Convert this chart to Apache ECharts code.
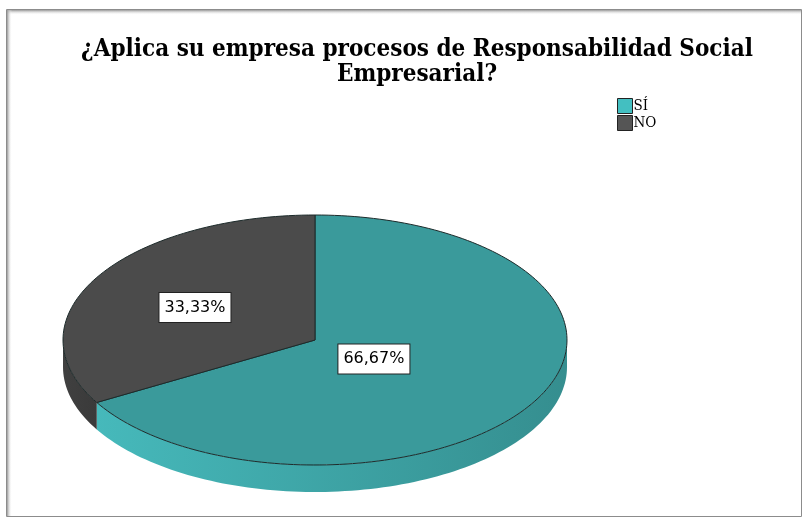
<!DOCTYPE html>
<html><head><meta charset="utf-8">
<script src="https://cdn.jsdelivr.net/npm/echarts@6/dist/echarts.min.js"></script>
<style>html,body{margin:0;padding:0;background:#fff}#c{width:805px;height:519px}</style>
</head><body><div id="c"></div>
<script>
const categories = ['SÍ', 'NO'];
const values = [66.67, 33.33];
const labelTexts = ['66,67%', '33,33%'];
const topColors = ['#3a9a9b', '#4b4b4b'];
const legendColors = ['#43bfc1', '#555555'];
const sideColors = [['#46b9bb', '#358e8f'], ['#404040', '#3a3a3a']];

const chart = echarts.init(document.getElementById('c'), null, {renderer: 'canvas'});
const total = values.reduce((a, b) => a + b, 0);
const CX = 315, CY = 340, RX = 252, RY = 125, DEPTH = 27;
const labelK = [0.27, 0.55];

function pt(aDeg, dy) {
  const a = aDeg * Math.PI / 180;
  return [CX + RX * Math.cos(a), CY - RY * Math.sin(a) + (dy || 0)];
}
function arcPts(a1, a2, dy) {
  const n = Math.max(2, Math.ceil(Math.abs(a2 - a1) / 1.5));
  const out = [];
  for (let i = 0; i <= n; i++) out.push(pt(a1 + (a2 - a1) * i / n, dy));
  return out;
}

function renderItem(params, api) {
  const i = api.value(0);
  let before = 0;
  for (let j = 0; j < i; j++) before += values[j];
  const aStart = 90 - before / total * 360;
  const aEnd = aStart - values[i] / total * 360;
  const children = [];
  for (let k = -2; k <= 1; k++) {
    const lo = Math.max(aEnd, -180 + 360 * k), hi = Math.min(aStart, 360 * k);
    if (hi > lo) {
      const top = arcPts(hi, lo, 0);
      const bot = arcPts(lo, hi, DEPTH);
      children.push({
        type: 'polygon',
        shape: {points: top.concat(bot)},
        style: {fill: new echarts.graphic.LinearGradient(0, 0, 1, 0, [
          {offset: 0, color: sideColors[i][0]}, {offset: 1, color: sideColors[i][1]}]),
          stroke: null}
      });
    }
  }
  const pts = [[CX, CY]].concat(arcPts(aStart, aEnd, 0));
  children.push({
    type: 'polygon',
    shape: {points: pts},
    style: {fill: topColors[i], stroke: '#1c2a2a', lineWidth: 1}
  });
  const mid = (aStart + aEnd) / 2 * Math.PI / 180;
  children.push({
    type: 'text',
    style: {
      text: labelTexts[i],
      x: CX + RX * labelK[i] * Math.cos(mid),
      y: CY - RY * labelK[i] * Math.sin(mid) + 2,
      align: 'center', verticalAlign: 'middle',
      font: '16px "DejaVu Sans", sans-serif',
      fill: '#000',
      backgroundColor: '#fff', borderColor: '#222', borderWidth: 1,
      padding: [7, 5, 6, 5]
    }
  });
  return {type: 'group', children};
}

const series = categories.map((name, i) => ({
  type: 'custom',
  name,
  coordinateSystem: 'none',
  renderItem,
  itemStyle: {color: legendColors[i]},
  data: [[i, values[i]]],
  z: 2
}));

chart.setOption({
  animation: false,
  title: {
    text: '¿Aplica su empresa procesos de Responsabilidad Social\nEmpresarial?',
    left: 412, top: 32, textAlign: 'center',
    textStyle: {fontFamily: 'DejaVu Serif Condensed', fontWeight: 'bold',
      fontSize: 24, lineHeight: 25, color: '#000'}
  },
  legend: {
    data: categories,
    orient: 'vertical', left: 617, top: 98, padding: 0,
    icon: 'rect', itemWidth: 15, itemHeight: 15, itemGap: 1,
    itemStyle: {borderColor: '#222', borderWidth: 1},
    textStyle: {fontFamily: 'DejaVu Serif Condensed', fontSize: 15, color: '#000', padding: [0, 0, 0, -4]}
  },
  graphic: [
    {type: 'rect', shape: {x: 6.5, y: 9.5, width: 795, height: 507}, style: {fill: null, stroke: '#8c8c8c', lineWidth: 1}, z: 0},
    {type: 'rect', shape: {x: 7, y: 10, width: 794, height: 5}, style: {fill: new echarts.graphic.LinearGradient(0,0,0,1,[{offset:0,color:'#9a9a9a'},{offset:1,color:'rgba(255,255,255,0)'}])}, z: 0},
    {type: 'rect', shape: {x: 7, y: 10, width: 5, height: 506}, style: {fill: new echarts.graphic.LinearGradient(0,0,1,0,[{offset:0,color:'#9a9a9a'},{offset:1,color:'rgba(255,255,255,0)'}])}, z: 0}
  ],
  series
});
</script></body></html>
